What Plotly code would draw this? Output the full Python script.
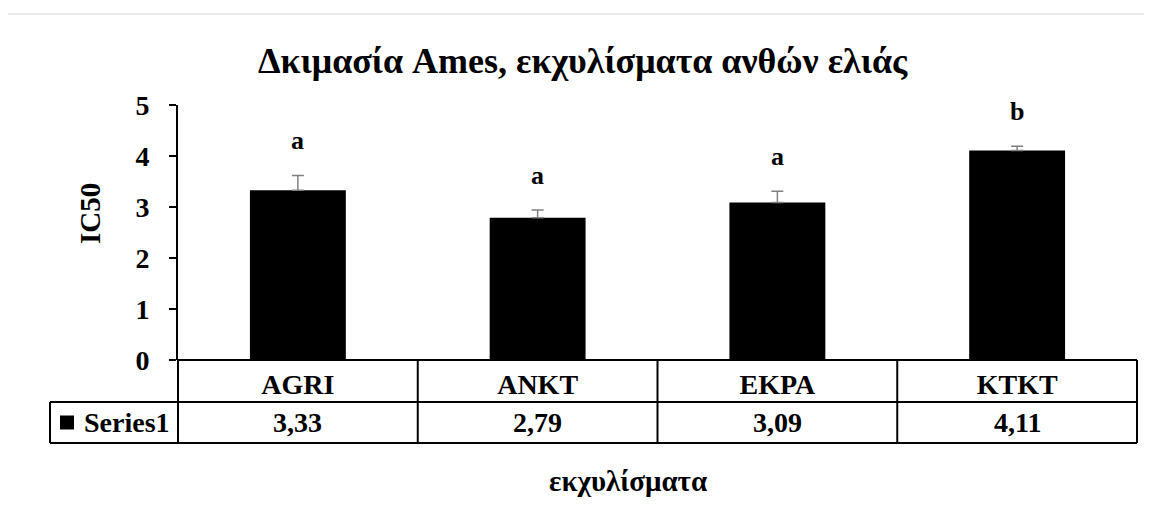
import plotly.graph_objects as go

categories = ["AGRI", "ANKT", "EKPA", "KTKT"]
values = [3.33, 2.79, 3.09, 4.11]
errors = [0.29, 0.15, 0.22, 0.08]
letters = ["a", "a", "a", "b"]
series_name = "Series1"
title = "Δκιμασία Ames, εκχυλίσματα ανθών ελιάς"
y_title = "IC50"
x_title = "εκχυλίσματα"
y_ticks = [0, 1, 2, 3, 4, 5]

W, H = 1152, 505
OFF = 8  # page body margin
L, R, T, B = 178 - OFF, 1137 - OFF, 105 - OFF, 360 - OFF
FONT = "Liberation Serif, Times New Roman, serif"


def px(xs):
    return (xs - OFF - L) / (R - L)


def py(ys):
    return (B - (ys - OFF)) / (B - T)


def f(size):
    return dict(family=FONT, size=size, color="black", weight="bold")


fig = go.Figure()
fig.add_trace(go.Bar(
    x=categories, y=values, width=0.4,
    marker=dict(color="black", line=dict(width=0)),
    error_y=dict(type="data", symmetric=False, array=errors,
                 arrayminus=[0] * len(errors), color="#808080",
                 thickness=1.5, width=6),
    showlegend=False,
))

ann = []
ann.append(dict(text=title, xref="paper", yref="paper",
                x=px(583), y=py(61), showarrow=False, font=f(36),
                xanchor="center", yanchor="middle"))
ann.append(dict(text=y_title, xref="paper", yref="paper",
                x=px(90), y=py(214), showarrow=False, textangle=-90, font=f(29),
                xanchor="center", yanchor="middle"))
ann.append(dict(text=x_title, xref="paper", yref="paper",
                x=px(628), y=py(481), showarrow=False, font=f(29),
                xanchor="center", yanchor="middle"))
for c, v, e, lt in zip(categories, values, errors, letters):
    ann.append(dict(text=lt, x=c, y=v + e, xref="x", yref="y",
                    showarrow=False, yshift=35, font=f(26),
                    xanchor="center", yanchor="middle"))
row2_mid = py(422.5)
for c, v in zip(categories, values):
    ann.append(dict(text=("%.2f" % v).replace(".", ","), x=c, y=row2_mid,
                    xref="x", yref="paper", showarrow=False, font=f(28),
                    xanchor="center", yanchor="middle"))
ann.append(dict(text=series_name, xref="paper", yref="paper",
                x=px(82), y=row2_mid, showarrow=False, font=f(28),
                xanchor="left", yanchor="middle"))

shapes = []
row1_bot, row2_bot = py(402), py(443)
left_cell = px(50)
n = len(categories)
line = dict(color="black", width=2)
shapes.append(dict(type="line", xref="paper", yref="paper", x0=left_cell, x1=1,
                   y0=row1_bot, y1=row1_bot, line=line))
shapes.append(dict(type="line", xref="paper", yref="paper", x0=left_cell, x1=1,
                   y0=row2_bot, y1=row2_bot, line=line))
shapes.append(dict(type="line", xref="paper", yref="paper", x0=left_cell, x1=left_cell,
                   y0=row1_bot, y1=row2_bot, line=line))
for k in range(n + 1):
    shapes.append(dict(type="line", xref="paper", yref="paper", x0=k / n, x1=k / n,
                       y0=0, y1=row2_bot, line=line))
shapes.append(dict(type="line", xref="paper", yref="paper", x0=0, x1=1,
                   y0=0, y1=0, line=line))
shapes.append(dict(type="rect", xref="paper", yref="paper", x0=px(60), x1=px(74),
                   y0=py(429.5), y1=py(415.5), fillcolor="black", line=dict(width=0)))
shapes.append(dict(type="line", xref="paper", yref="paper", x0=px(4), x1=px(1160),
                   y0=py(14), y1=py(14), line=dict(color="#d3d3d3", width=1)))

fig.update_layout(
    width=W, height=H,
    margin=dict(l=L, r=W - R, t=T, b=H - B),
    paper_bgcolor="white", plot_bgcolor="white",
    annotations=ann, shapes=shapes,
    xaxis=dict(showticklabels=True, ticks="", showgrid=False, zeroline=False,
               showline=False, range=[-0.5, n - 0.5], tickfont=f(28),
               ticklabelstandoff=5),
    yaxis=dict(range=[0, 5], tickvals=y_ticks, ticks="outside", ticklen=7, tickwidth=2,
               tickcolor="black", showline=True, linecolor="black", linewidth=2,
               showgrid=False, zeroline=False, ticklabelstandoff=14,
               tickfont=f(28)),
    font=dict(family=FONT, color="black"),
)

fig.write_html("out.html")
